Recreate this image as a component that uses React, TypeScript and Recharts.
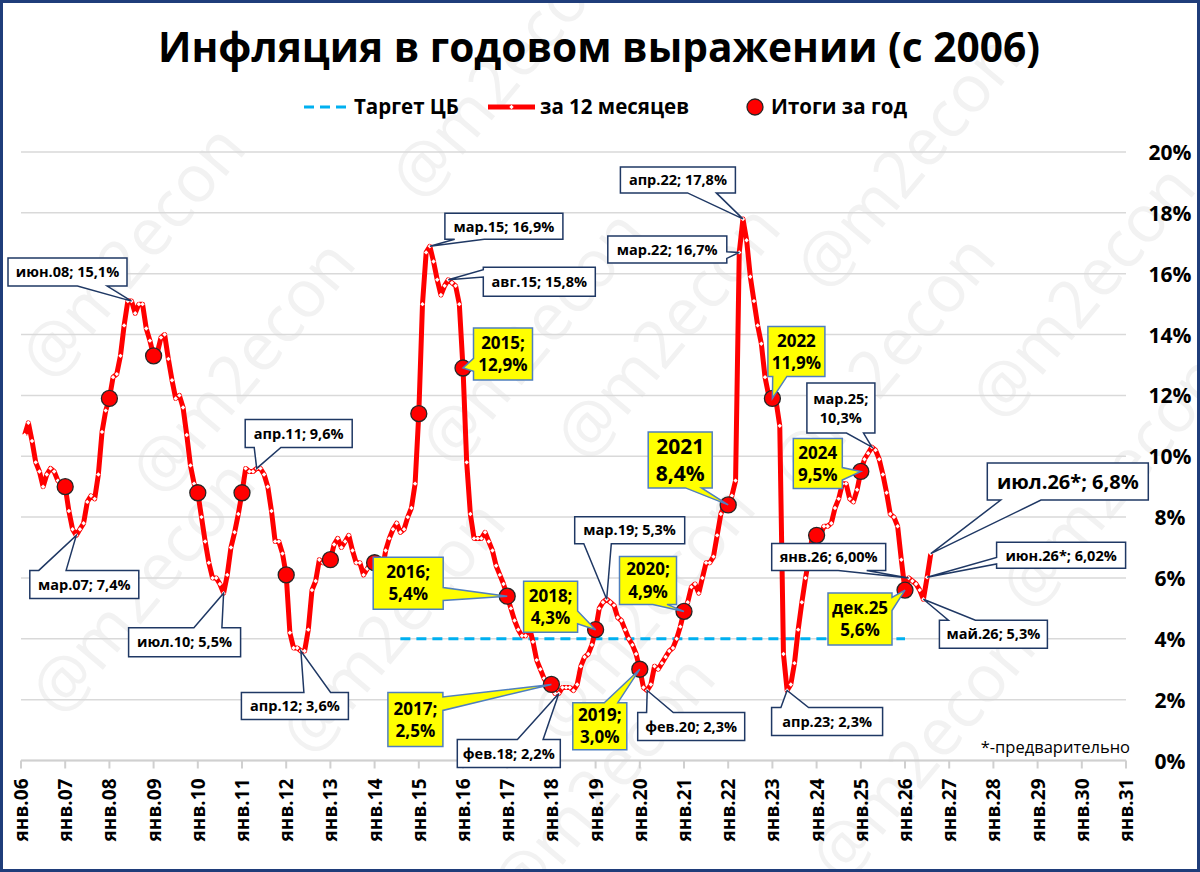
import React from "react";
import { CartesianGrid, ComposedChart, Line, XAxis, YAxis } from "recharts";

const FONT = "'Open Sans', 'Noto Sans', 'DejaVu Sans', sans-serif";

const MONTHS = ["янв", "фев", "мар", "апр", "май", "июн", "июл", "авг", "сен", "окт", "ноя", "дек"];
const FIRST_YEAR = 2006;
const AXIS_YEARS = 25; // янв.06 ... янв.31

// инфляция за 12 месяцев, % (янв ... дек)
const CPI_2006 = [10.7, 11.1, 10.5, 9.8, 9.5, 9.0, 9.4, 9.6, 9.5, 9.2, 9.1, 9.0];
const CPI_2007 = [8.2, 7.6, 7.4, 7.6, 7.8, 8.5, 8.7, 8.6, 9.4, 10.8, 11.5, 11.9];
const CPI_2008 = [12.6, 12.7, 13.3, 14.3, 15.1, 15.1, 14.7, 15.0, 15.0, 14.2, 13.8, 13.3];
const CPI_2009 = [13.4, 13.9, 14.0, 13.2, 12.5, 11.9, 12.0, 11.6, 10.7, 9.7, 9.1, 8.8];
const CPI_2010 = [8.0, 7.2, 6.5, 6.0, 6.0, 5.8, 5.5, 6.1, 7.0, 7.5, 8.1, 8.8];
const CPI_2011 = [9.6, 9.5, 9.5, 9.6, 9.6, 9.4, 9.0, 8.2, 7.2, 7.2, 6.8, 6.1];
const CPI_2012 = [4.2, 3.7, 3.7, 3.6, 3.6, 4.3, 5.6, 5.9, 6.6, 6.5, 6.5, 6.6];
const CPI_2013 = [7.1, 7.3, 7.0, 7.2, 7.4, 6.9, 6.5, 6.5, 6.1, 6.3, 6.5, 6.5];
const CPI_2014 = [6.1, 6.2, 6.9, 7.3, 7.6, 7.8, 7.5, 7.6, 8.0, 8.3, 9.1, 11.4];
const CPI_2015 = [15.0, 16.7, 16.9, 16.4, 15.8, 15.3, 15.6, 15.8, 15.7, 15.6, 15.0, 12.9];
const CPI_2016 = [9.8, 8.1, 7.3, 7.3, 7.3, 7.5, 7.2, 6.9, 6.4, 6.1, 5.8, 5.4];
const CPI_2017 = [5.0, 4.6, 4.3, 4.1, 4.1, 4.4, 3.9, 3.3, 3.0, 2.7, 2.5, 2.5];
const CPI_2018 = [2.2, 2.2, 2.4, 2.4, 2.4, 2.3, 2.5, 3.1, 3.4, 3.5, 3.8, 4.3];
const CPI_2019 = [5.0, 5.2, 5.3, 5.2, 5.1, 4.7, 4.6, 4.3, 4.0, 3.8, 3.5, 3.0];
const CPI_2020 = [2.4, 2.3, 2.5, 3.1, 3.0, 3.2, 3.4, 3.6, 3.7, 4.0, 4.4, 4.9];
const CPI_2021 = [5.2, 5.7, 5.8, 5.5, 6.0, 6.5, 6.5, 6.7, 7.4, 8.1, 8.4, 8.4];
const CPI_2022 = [8.7, 9.2, 16.7, 17.8, 17.1, 15.9, 15.1, 14.3, 13.7, 12.6, 12.0, 11.9];
const CPI_2023 = [11.8, 11.0, 3.5, 2.3, 2.5, 3.2, 4.3, 5.2, 6.0, 6.7, 7.5, 7.4];
const CPI_2024 = [7.4, 7.7, 7.7, 7.8, 8.3, 8.6, 9.1, 9.1, 8.6, 8.5, 8.9, 9.5];
const CPI_2025 = [9.9, 10.1, 10.3, 10.2, 9.9, 9.4, 8.8, 8.1, 8.0, 7.7, 6.6, 5.6];
const CPI_2026 = [6.0, 5.9, 5.8, 5.6, 5.3, 6.02, 6.8];

// итоги за год (декабрь к декабрю), 2006 ... 2025
const YEAR_END = [9.0, 11.9, 13.3, 8.8, 8.8, 6.1, 6.6, 6.5, 11.4, 12.9, 5.4, 2.5, 4.3, 3.0, 4.9, 8.4, 11.9, 7.4, 9.5, 5.6];

const TARGET = 4;
const TARGET_FROM = "июл.14";
const TARGET_TO = "дек.25";

const Y_TICKS = [0, 2, 4, 6, 8, 10, 12, 14, 16, 18, 20];
const X_TICKS = Array.from({ length: AXIS_YEARS + 1 }, (_, k) => k * 12);

const CPI = [
  ...CPI_2006, ...CPI_2007, ...CPI_2008, ...CPI_2009, ...CPI_2010, ...CPI_2011, ...CPI_2012,
  ...CPI_2013, ...CPI_2014, ...CPI_2015, ...CPI_2016, ...CPI_2017, ...CPI_2018, ...CPI_2019,
  ...CPI_2020, ...CPI_2021, ...CPI_2022, ...CPI_2023, ...CPI_2024, ...CPI_2025, ...CPI_2026,
];

const yy = (year: number) => String(year % 100).padStart(2, "0");
const keyOf = (i: number) => `${MONTHS[i % 12]}.${yy(FIRST_YEAR + Math.floor(i / 12))}`;
const idxOf = (k: string) => {
  const [m, y] = k.split(".");
  return (2000 + Number(y) - FIRST_YEAR) * 12 + MONTHS.indexOf(m);
};

const tFrom = idxOf(TARGET_FROM);
const tTo = idxOf(TARGET_TO);

// each month is plotted at its end (x = index + 1)
const rows = CPI.map((v, i) => ({
  x: i + 1,
  key: keyOf(i),
  cpi: v,
  yearEnd: i % 12 === 11 ? YEAR_END[(i - 11) / 12] ?? null : null,
  target: i >= tFrom && i <= tTo ? TARGET : null,
}));

type Callout = {
  at: string;
  lines: string[];
  dx: number;
  dy: number;
  w: number;
  h: number;
  fs: number;
  yellow?: boolean;
};

const CALLOUTS: Callout[] = [
  { at: "июн.08", lines: ["июн.08; 15,1%"], dx: -64, dy: -29, w: 119, h: 28, fs: 14.5 },
  { at: "мар.07", lines: ["мар.07; 7,4%"], dx: 8, dy: 49, w: 109, h: 28, fs: 14.5 },
  { at: "июл.10", lines: ["июл.10; 5,5%"], dx: -39, dy: 49, w: 112, h: 29, fs: 14.5 },
  { at: "апр.11", lines: ["апр.11; 9,6%"], dx: 42, dy: -35, w: 107, h: 28, fs: 14.5 },
  { at: "апр.12", lines: ["апр.12; 3,6%"], dx: -6, dy: 55, w: 107, h: 27, fs: 14.5 },
  { at: "мар.15", lines: ["мар.15; 16,9%"], dx: 74, dy: -20, w: 118, h: 26, fs: 14.5 },
  { at: "авг.15", lines: ["авг.15; 15,8%"], dx: 91, dy: 2, w: 112, h: 29, fs: 14.5 },
  { at: "фев.18", lines: ["фев.18; 2,2%"], dx: -50, dy: 60, w: 103, h: 28, fs: 14.5 },
  { at: "мар.19", lines: ["мар.19; 5,3%"], dx: 23, dy: -69, w: 110, h: 27, fs: 14.5 },
  { at: "фев.20", lines: ["фев.20; 2,3%"], dx: 44, dy: 36, w: 107, h: 28, fs: 14.5 },
  { at: "апр.22", lines: ["апр.22; 17,8%"], dx: -65, dy: -39, w: 115, h: 26, fs: 14.5 },
  { at: "мар.22", lines: ["мар.22; 16,7%"], dx: -72, dy: -3, w: 119, h: 27, fs: 14.5 },
  { at: "апр.23", lines: ["апр.23; 2,3%"], dx: 40, dy: 31, w: 111, h: 28, fs: 14.5 },
  { at: "мар.25", lines: ["мар.25;", "10,3%"], dx: -31, dy: -39, w: 68, h: 50, fs: 14.5 },
  { at: "янв.26", lines: ["янв.26; 6,00%"], dx: -80, dy: -21, w: 114, h: 27, fs: 14.5 },
  { at: "май.26", lines: ["май.26; 5,3%"], dx: 70, dy: 35, w: 108, h: 28, fs: 14.5 },
  { at: "июн.26", lines: ["июн.26*; 6,02%"], dx: 134, dy: -22, w: 129, h: 26, fs: 14.5 },
  { at: "июл.26", lines: ["июл.26*; 6,8%"], dx: 137, dy: -72, w: 161, h: 37, fs: 20 },
  { at: "дек.15", lines: ["2015;", "12,9%"], dx: 40, dy: -14, w: 59, h: 52, fs: 17, yellow: true },
  { at: "дек.16", lines: ["2016;", "5,4%"], dx: -99, dy: -13, w: 70, h: 52, fs: 17, yellow: true },
  { at: "дек.17", lines: ["2017;", "2,5%"], dx: -136, dy: 35, w: 55, h: 54, fs: 17, yellow: true },
  { at: "дек.18", lines: ["2018;", "4,3%"], dx: -45, dy: -23, w: 54, h: 51, fs: 17, yellow: true },
  { at: "дек.19", lines: ["2019;", "3,0%"], dx: -40, dy: 57, w: 54, h: 47, fs: 17, yellow: true },
  { at: "дек.20", lines: ["2020;", "4,9%"], dx: -36, dy: -31, w: 57, h: 48, fs: 17, yellow: true },
  { at: "дек.21", lines: ["2021", "8,4%"], dx: -48, dy: -45, w: 64, h: 56, fs: 21, yellow: true },
  { at: "дек.22", lines: ["2022", "11,9%"], dx: 24, dy: -47, w: 57, h: 50, fs: 17, yellow: true },
  { at: "дек.24", lines: ["2024", "9,5%"], dx: -43, dy: -8, w: 49, h: 50, fs: 17, yellow: true },
  { at: "дек.25", lines: ["дек.25", "5,6%"], dx: -45, dy: 29, w: 64, h: 52, fs: 17, yellow: true },
];

// rectangle with a wedge pointing at (px, py), like an Excel callout
function wedgePath(x0: number, y0: number, w: number, h: number, px: number, py: number) {
  const cx = x0 + w / 2;
  const cy = y0 + h / 2;
  const nx = (px - cx) / w;
  const ny = (py - cy) / h;
  const vertical = Math.abs(ny) > Math.abs(nx);
  const far = vertical ? px > cx : py > cy;
  const [a, b] = far ? [7 / 12, 10 / 12] : [1 / 12, 4 / 12];
  const pts: number[][] = [[x0, y0]];
  if (vertical && ny < 0) pts.push([x0 + a * w, y0], [px, py], [x0 + b * w, y0]);
  pts.push([x0 + w, y0]);
  if (!vertical && nx > 0) pts.push([x0 + w, y0 + a * h], [px, py], [x0 + w, y0 + b * h]);
  pts.push([x0 + w, y0 + h]);
  if (vertical && ny > 0) pts.push([x0 + b * w, y0 + h], [px, py], [x0 + a * w, y0 + h]);
  pts.push([x0, y0 + h]);
  if (!vertical && nx < 0) pts.push([x0, y0 + b * h], [px, py], [x0, y0 + a * h]);
  return "M" + pts.map((p) => p.map((n) => n.toFixed(1)).join(",")).join("L") + "Z";
}

function CalloutBox({ px, py, c }: { px: number; py: number; c: Callout }) {
  const cx = px + c.dx;
  const cy = py + c.dy;
  const x0 = cx - c.w / 2;
  const y0 = cy - c.h / 2;
  const gap = c.fs * 1.3;
  const first = cy - ((c.lines.length - 1) / 2) * gap + c.fs * 0.36;
  return (
    <g>
      <path
        d={wedgePath(x0, y0, c.w, c.h, px, py)}
        fill={c.yellow ? "#ffff00" : "#ffffff"}
        stroke={c.yellow ? "#4f7fbf" : "#1f3864"}
        strokeWidth={1.5}
        strokeLinejoin="miter"
      />
      {c.lines.map((t, k) => (
        <text
          key={k}
          x={cx}
          y={first + k * gap}
          textAnchor="middle"
          fontFamily={FONT}
          fontSize={c.fs}
          fontWeight={700}
          fill="#000"
        >
          {t}
        </text>
      ))}
    </g>
  );
}

const renderMonthDot = (p: any) => {
  const { cx, cy, index } = p;
  if (cx == null || cy == null || p.value == null) return <g key={`m${index}`} />;
  const r = 2.2;
  return (
    <path
      key={`m${index}`}
      d={`M${cx},${cy - r}L${cx + r},${cy}L${cx},${cy + r}L${cx - r},${cy}Z`}
      fill="#ffffff"
    />
  );
};

const renderYearDot = (p: any) => {
  const { cx, cy, index } = p;
  if (cx == null || cy == null || p.value == null) return <g key={`y${index}`} />;
  return <circle key={`y${index}`} cx={cx} cy={cy} r={8} fill="#ff0000" stroke="#262626" strokeWidth={1.3} />;
};

const renderCallout = (p: any) => {
  const { cx, cy, index } = p;
  const row = rows[index];
  const c = row ? CALLOUTS.find((k) => k.at === row.key) : undefined;
  if (!c || cx == null || cy == null) return <g key={`c${index}`} />;
  return (
    <g key={`c${index}`}>
      <CalloutBox px={cx} py={cy} c={c} />
    </g>
  );
};

const XTick = ({ x, y, payload }: any) => (
  <text
    x={x}
    y={y}
    transform={`rotate(-90 ${x} ${y})`}
    textAnchor="end"
    dominantBaseline="central"
    fontFamily={FONT}
    fontSize={19}
    fontWeight={700}
    fill="#000"
  >
    {`янв.${yy(FIRST_YEAR + payload.value / 12)}`}
  </text>
);

const YTick = ({ x, y, payload }: any) => (
  <text
    x={x + 19}
    y={y}
    textAnchor="middle"
    dominantBaseline="central"
    fontFamily={FONT}
    fontSize={21}
    fontWeight={700}
    fill="#000"
  >
    {`${payload.value}%`}
  </text>
);

const WATERMARKS: number[][] = [
  [130, 250], [500, 70], [905, 160], [1080, 290], [240, 365], [530, 335], [665, 330],
  [140, 585], [390, 625], [640, 610], [600, 780], [880, 360], [920, 750], [1110, 480],
];

function Watermarks() {
  return (
    <svg width={1200} height={872} style={{ position: "absolute", left: 0, top: 0 }}>
      {WATERMARKS.map(([x, y], k) => (
        <text
          key={k}
          x={x}
          y={y}
          transform={`rotate(-50 ${x} ${y})`}
          textAnchor="middle"
          dominantBaseline="central"
          fontFamily={FONT}
          fontSize={66}
          fill="#f2f2f2"
        >
          @m2econ
        </text>
      ))}
    </svg>
  );
}

function Overlay() {
  const legendText = { fontFamily: FONT, fontSize: 20.5, fontWeight: 700, fill: "#000" } as const;
  return (
    <svg width={1200} height={872} style={{ position: "absolute", left: 0, top: 0, pointerEvents: "none" }}>
      <text
        x={599}
        y={62}
        textAnchor="middle"
        fontFamily={FONT}
        fontSize={41}
        fontWeight={700}
        textLength={882}
        lengthAdjust="spacingAndGlyphs"
        fill="#000"
      >
        Инфляция в годовом выражении (с 2006)
      </text>

      <line x1={304} x2={348} y1={107} y2={107} stroke="#00b0f0" strokeWidth={3} strokeDasharray="10 6" />
      <text x={354} y={114} {...legendText}>Таргет ЦБ</text>
      <line x1={488} x2={535} y1={107} y2={107} stroke="#ff0000" strokeWidth={5} />
      <path d="M511.5,104.8L513.7,107L511.5,109.2L509.3,107Z" fill="#fff" />
      <text x={540} y={114} {...legendText}>за 12 месяцев</text>
      <circle cx={755} cy={107} r={8} fill="#ff0000" stroke="#262626" strokeWidth={1.3} />
      <text x={771} y={114} {...legendText}>Итоги за год</text>

      <text x={1130} y={753} textAnchor="end" fontFamily={FONT} fontSize={16.5} fill="#000">
        *-предварительно
      </text>

      <rect x={1.5} y={1.5} width={1197} height={869} fill="none" stroke="#1f3d7a" strokeWidth={3} />
    </svg>
  );
}

export default function App() {
  return (
    <div
      style={{
        position: "absolute",
        left: 0,
        top: 0,
        width: 1200,
        height: 872,
        background: "#ffffff",
        overflow: "hidden",
      }}
    >
      <Watermarks />
      <div style={{ position: "absolute", left: 0, top: 0 }}>
        <ComposedChart
          width={1200}
          height={872}
          data={rows}
          margin={{ top: 152, right: 14, bottom: 11.5, left: 21 }}
        >
          <CartesianGrid vertical={false} stroke="#d9d9d9" strokeWidth={1.5} />
          <XAxis
            dataKey="x"
            type="number"
            domain={[0, AXIS_YEARS * 12]}
            ticks={X_TICKS}
            interval={0}
            height={100}
            axisLine={{ stroke: "#d0d0d0", strokeWidth: 2 }}
            tickLine={{ stroke: "#d0d0d0", strokeWidth: 2 }}
            tickSize={8}
            tickMargin={10}
            tick={<XTick />}
          />
          <YAxis
            orientation="right"
            domain={[0, 20]}
            ticks={Y_TICKS}
            interval={0}
            width={60}
            axisLine={false}
            tickLine={false}
            tickSize={0}
            tickMargin={25}
            tick={<YTick />}
          />
          <Line
            dataKey="target"
            type="linear"
            stroke="#00b0f0"
            strokeWidth={3}
            strokeDasharray="10 6"
            dot={false}
            activeDot={false}
            isAnimationActive={false}
          />
          <Line
            dataKey="cpi"
            type="linear"
            stroke="#ff0000"
            strokeWidth={5}
            strokeLinejoin="round"
            dot={renderMonthDot}
            activeDot={false}
            isAnimationActive={false}
          />
          <Line
            dataKey="yearEnd"
            type="linear"
            stroke="none"
            dot={renderYearDot}
            activeDot={false}
            isAnimationActive={false}
          />
          <Line
            dataKey="cpi"
            type="linear"
            stroke="none"
            dot={renderCallout}
            activeDot={false}
            legendType="none"
            isAnimationActive={false}
          />
        </ComposedChart>
      </div>
      <Overlay />
    </div>
  );
}
